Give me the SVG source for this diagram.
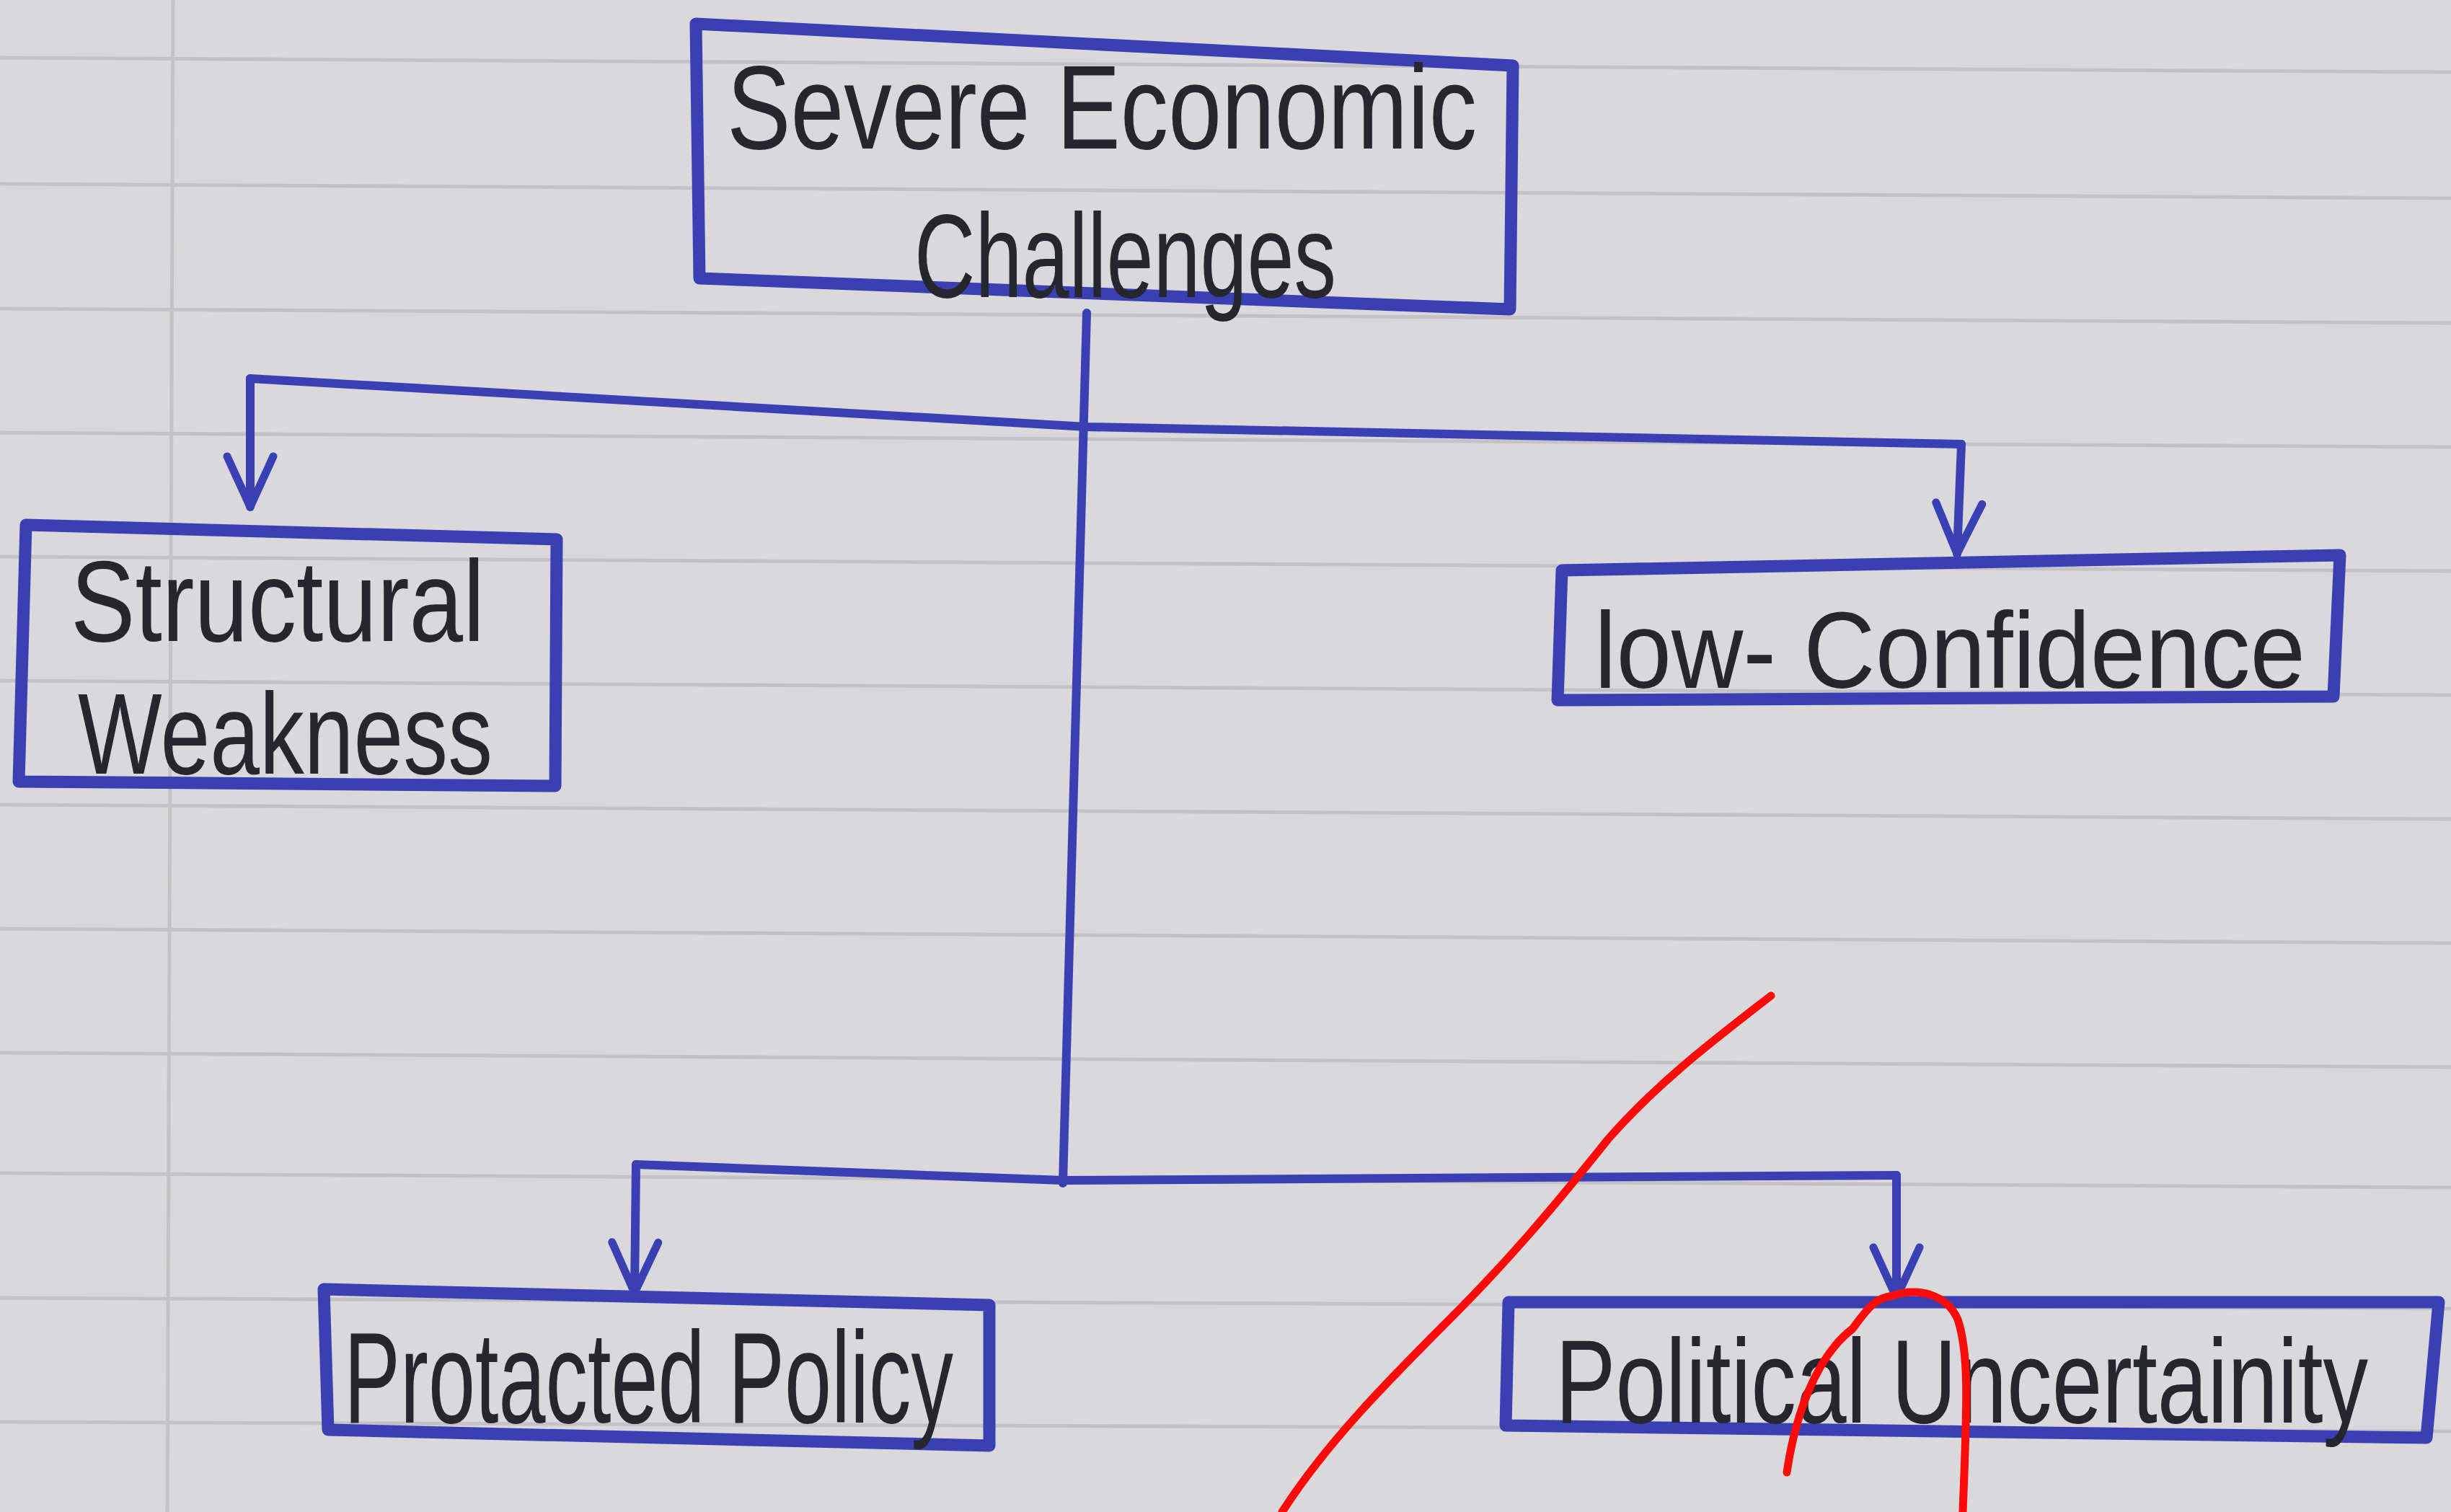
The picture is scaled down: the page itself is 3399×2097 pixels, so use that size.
<svg xmlns="http://www.w3.org/2000/svg" width="3399" height="2097" viewBox="0 0 3399 2097">
<style>
.paper{fill:#d9d9db}
.rule{stroke:#c3c3c6;stroke-width:5;fill:none}
.box{fill:none;stroke:#3a40b4;stroke-width:17;stroke-linejoin:round;stroke-linecap:round}
.wire{fill:none;stroke:#3a40b4;stroke-width:12;stroke-linejoin:round;stroke-linecap:round}
.lbl{font-family:"Liberation Sans Narrow","Liberation Sans",Arial,sans-serif;fill:#25262e}
.red{fill:none;stroke:#ff0a0a;stroke-width:11;stroke-linecap:round;stroke-linejoin:round}
</style>
<defs>
<marker id="v" markerUnits="userSpaceOnUse" markerWidth="200" markerHeight="200" refX="0" refY="0" orient="auto" overflow="visible">
<path d="M-70,-32 L0,0 L-70,32" fill="none" stroke="#3a40b4" stroke-width="11" stroke-linecap="round" stroke-linejoin="round"/>
</marker>
</defs>
<rect class="paper" x="0" y="0" width="3399" height="2097"/>
<g id="ruling">
<path class="rule" d="M0,80 L3399,100"/>
<path class="rule" d="M0,255 L3399,275"/>
<path class="rule" d="M0,428 L3399,448"/>
<path class="rule" d="M0,600 L3399,620"/>
<path class="rule" d="M0,772 L3399,792"/>
<path class="rule" d="M0,944 L3399,964"/>
<path class="rule" d="M0,1116 L3399,1136"/>
<path class="rule" d="M0,1288 L3399,1308"/>
<path class="rule" d="M0,1460 L3399,1480"/>
<path class="rule" d="M0,1627 L3399,1647"/>
<path class="rule" d="M0,1800 L3399,1815"/>
<path class="rule" d="M0,1972 L3399,1985"/>
<path class="rule" d="M240,0 L232,2097" stroke-width="4"/>
</g>
<g id="connectors">
<path class="wire" d="M1507,434 L1474,1641"/>
<path class="wire" d="M347,525 L1507,592 L2720,616"/>
<path class="wire" d="M347,525 L347,703" marker-end="url(#v)"/>
<path class="wire" d="M2720,616 L2714,768" marker-end="url(#v)"/>
<path class="wire" d="M882,1615 L1474,1637 L2630,1630"/>
<path class="wire" d="M882,1615 L880,1793" marker-end="url(#v)"/>
<path class="wire" d="M2630,1630 L2630,1800" marker-end="url(#v)"/>
</g>
<g id="severe-economic-challenges">
<path class="box" d="M965,33 L2098,91 L2094,429 L970,386 Z"/>
<text class="lbl" x="1008" y="206" font-size="165" textLength="1040" lengthAdjust="spacingAndGlyphs">Severe  Economic</text>
<text class="lbl" x="1268" y="412" font-size="165" textLength="585" lengthAdjust="spacingAndGlyphs">Challenges</text>
</g>
<g id="structural-weakness">
<path class="box" d="M36,728 L772,748 L770,1090 L26,1084 Z"/>
<text class="lbl" x="98" y="889" font-size="160" textLength="574" lengthAdjust="spacingAndGlyphs">Structural</text>
<text class="lbl" x="108" y="1073" font-size="160" textLength="575" lengthAdjust="spacingAndGlyphs">Weakness</text>
</g>
<g id="low-confidence">
<path class="box" d="M2166,791 L3245,770 L3236,966 L2160,971 Z"/>
<text class="lbl" x="2211" y="954" font-size="150" textLength="986" lengthAdjust="spacingAndGlyphs">low- Confidence</text>
</g>
<g id="protacted-policy">
<path class="box" d="M449,1788 L1372,1810 L1372,2005 L455,1983 Z"/>
<text class="lbl" x="477" y="1973" font-size="180" textLength="845" lengthAdjust="spacingAndGlyphs">Protacted Policy</text>
</g>
<g id="political-uncertainity">
<path class="box" d="M2092,1806 L3382,1806 L3365,1994 L2088,1977 Z"/>
<text class="lbl" x="2157" y="1973" font-size="165" textLength="1127" lengthAdjust="spacingAndGlyphs">Political  Uncertainity</text>
</g>
<g id="red-marks">
<path class="red" d="M2456,1381 C2380,1440 2300,1500 2230,1580 C2150,1680 2090,1750 2010,1830 C1930,1910 1840,2000 1778,2097"/>
<path class="red" d="M2478,2042 C2490,1960 2520,1880 2569,1843 C2590,1815 2600,1800 2625,1797 C2660,1785 2700,1795 2715,1830 C2732,1880 2727,1960 2722,2097"/>
</g>
</svg>
